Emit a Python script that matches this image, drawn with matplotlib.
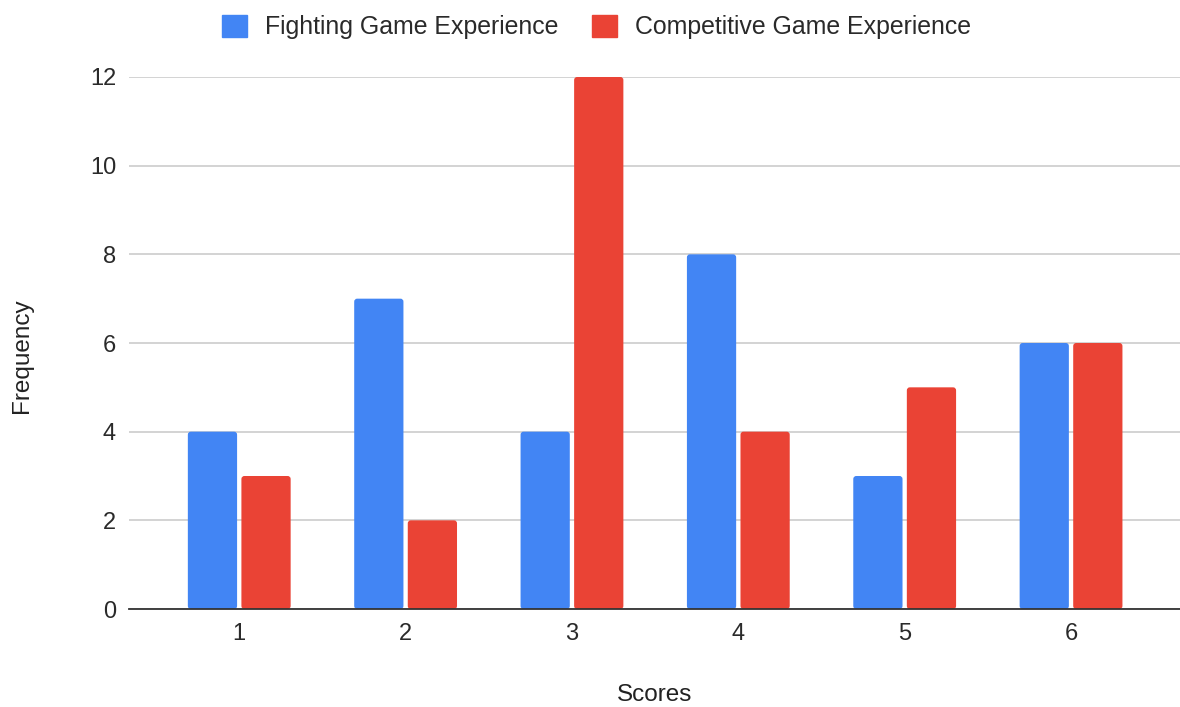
import matplotlib
matplotlib.use("Agg")
import matplotlib.pyplot as plt
from matplotlib.patches import FancyBboxPatch
import numpy as np

plt.rcParams['font.family'] = ['Liberation Sans', 'DejaVu Sans']

scores = ["1", "2", "3", "4", "5", "6"]
fighting = [4, 7, 4, 8, 3, 6]
competitive = [3, 2, 12, 4, 5, 6]
series_names = ["Fighting Game Experience", "Competitive Game Experience"]
y_ticks = [0, 2, 4, 6, 8, 10, 12]

blue = "#4285F4"
red = "#EA4335"

fig = plt.figure(figsize=(11.8, 7.07), dpi=100)
ax = fig.add_axes([0.109, 0.1386, 0.891, 0.7525])

x = np.arange(1, len(scores) + 1)
w = 0.296
off = 0.161
bars_f = ax.bar(x - off, fighting, width=w, color=blue, label=series_names[0], zorder=3)
bars_c = ax.bar(x + off, competitive, width=w, color=red, label=series_names[1], zorder=3)

ax.set_xlim(0.335, 6.655)
ax.set_ylim(0, 12)

# give the bar tops slightly rounded corners
px_x = (ax.get_xlim()[1] - ax.get_xlim()[0]) / (0.891 * 1180)
px_y = 12 / (0.7525 * 707)
for bars in (bars_f, bars_c):
    for b in bars:
        b.set_visible(False)
        rb = FancyBboxPatch((b.get_x(), b.get_y()), b.get_width(), b.get_height(),
                            boxstyle=f"round,pad=0,rounding_size={3 * px_x}",
                            mutation_aspect=px_y / px_x,
                            facecolor=b.get_facecolor(), edgecolor="none", zorder=3)
        ax.add_patch(rb)

ax.set_yticks(y_ticks)
ax.set_xticks(x)
ax.set_xticklabels(scores)
ax.yaxis.grid(True, color="#cccccc", linewidth=1.2, zorder=0)
ax.set_axisbelow(True)
for s in ["top", "right", "left"]:
    ax.spines[s].set_visible(False)
ax.spines["bottom"].set_color("#333333")
ax.spines["bottom"].set_linewidth(1.3)
ax.spines["bottom"].set_zorder(4)
ax.tick_params(axis="both", length=0, labelsize=17, labelcolor="#2a2a2a")
ax.tick_params(axis="y", pad=9)
ax.tick_params(axis="x", pad=10)

ax.set_xlabel("Scores", fontsize=17.5, color="#222222", va="center")
ax.xaxis.set_label_coords(0.5007, -0.1617)
ax.set_ylabel("Frequency", fontsize=17.5, color="#222222", va="center")
ax.yaxis.set_label_coords(-0.1014, 0.477)

handles = [plt.Rectangle((0, 0), 1, 1, color=blue), plt.Rectangle((0, 0), 1, 1, color=red)]
leg = fig.legend(handles, series_names, loc="center", bbox_to_anchor=(0.5055, 1 - 27 / 707),
                 ncol=2, frameon=False, fontsize=17.9, handlelength=1.0, handleheight=1.0,
                 columnspacing=1.38, handletextpad=0.72, labelcolor="#2a2a2a")

fig.savefig("out.png", dpi=100)
